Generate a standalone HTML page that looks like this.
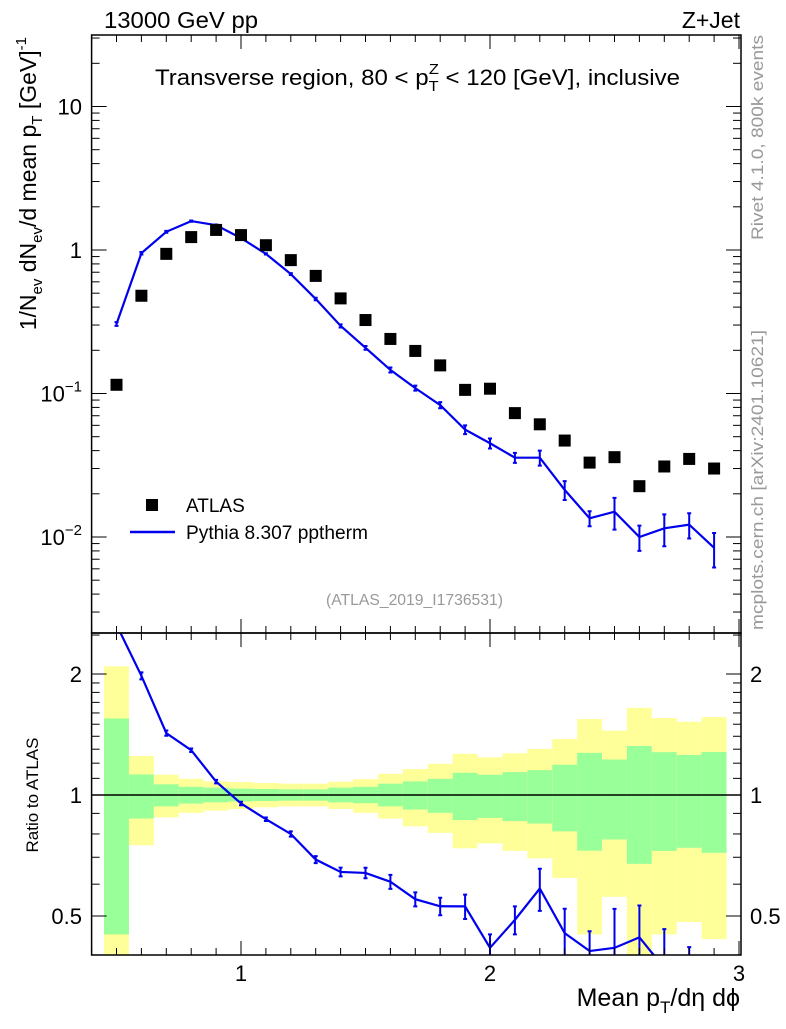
<!DOCTYPE html>
<html><head><meta charset="utf-8"><style>
body{margin:0;background:#fff;}
svg text{font-family:"Liberation Sans",Arial,sans-serif;}
</style></head><body>
<svg id="c" width="786" height="1024" xmlns="http://www.w3.org/2000/svg">
<g id="bands"></g><g id="marks"></g><g id="axes"></g>
<text x="104" y="28" font-size="23" textLength="154" lengthAdjust="spacingAndGlyphs">13000 GeV pp</text>
<text x="740" y="28" font-size="23" text-anchor="end">Z+Jet</text>
<text x="155" y="85" font-size="22" textLength="525" lengthAdjust="spacingAndGlyphs">Transverse region, 80 &lt; p<tspan font-size="15" dy="6">T</tspan><tspan font-size="15" dx="-9" dy="-17">Z</tspan><tspan dy="11"> &lt; 120 [GeV], inclusive</tspan></text>
<text x="326" y="605" font-size="16" fill="#999" textLength="177" lengthAdjust="spacingAndGlyphs">(ATLAS_2019_I1736531)</text>
<text transform="translate(763,240) rotate(-90)" font-size="17" fill="#999" textLength="205" lengthAdjust="spacingAndGlyphs">Rivet 4.1.0,  800k events</text>
<text transform="translate(763,630) rotate(-90)" font-size="17" fill="#999" textLength="300" lengthAdjust="spacingAndGlyphs">mcplots.cern.ch [arXiv:2401.10621]</text>
<text transform="translate(36,37) rotate(-90)" font-size="23" text-anchor="end">1/N<tspan font-size="15" dy="6">ev</tspan><tspan dy="-6"> dN</tspan><tspan font-size="15" dy="6">ev</tspan><tspan dy="-6">/d mean p</tspan><tspan font-size="15" dy="6">T</tspan><tspan dy="-6"> [GeV]</tspan><tspan font-size="15" dy="-10">-1</tspan></text>
<text transform="translate(38,795) rotate(-90)" font-size="17" text-anchor="middle">Ratio to ATLAS</text>
<text x="740" y="1006" font-size="25" text-anchor="end">Mean p<tspan font-size="17" dy="7">T</tspan><tspan dy="-7">/dη dϕ</tspan></text>
<rect x="146" y="499" width="12" height="12" fill="#000"/>
<text x="186" y="512" font-size="19">ATLAS</text>
<line x1="130" y1="532" x2="175" y2="532" stroke="#0000ee" stroke-width="2.5"/>
<text x="186" y="539" font-size="19" textLength="182" lengthAdjust="spacingAndGlyphs">Pythia 8.307 pptherm</text>
</svg>
<script>
const xs=[0.5,0.6,0.7,0.8,0.9,1.0,1.1,1.2,1.3,1.4,1.5,1.6,1.7,1.8,1.9,2.0,2.1,2.2,2.3,2.4,2.5,2.6,2.7,2.8,2.9];
const atlas=[0.115,0.48,0.94,1.23,1.38,1.27,1.08,0.85,0.66,0.46,0.325,0.24,0.198,0.157,0.106,0.108,0.073,0.061,0.047,0.033,0.036,0.0226,0.031,0.035,0.030];
const pythia=[0.305,0.95,1.34,1.59,1.49,1.21,0.94,0.68,0.456,0.296,0.208,0.146,0.109,0.083,0.056,0.045,0.0357,0.0357,0.0213,0.0135,0.015,0.0100,0.0115,0.0122,0.0084];
const pyRelErr=[0.03,0.02,0.015,0.01,0.01,0.01,0.01,0.015,0.02,0.025,0.03,0.04,0.04,0.05,0.07,0.08,0.08,0.12,0.15,0.12,0.25,0.2,0.25,0.2,0.27];
const yelTop=[2.09,1.25,1.123,1.097,1.081,1.077,1.071,1.067,1.067,1.079,1.095,1.129,1.16,1.196,1.266,1.241,1.27,1.302,1.378,1.545,1.446,1.648,1.554,1.521,1.563];
const grnTop=[1.55,1.125,1.063,1.048,1.043,1.037,1.035,1.033,1.033,1.043,1.048,1.067,1.081,1.097,1.136,1.123,1.14,1.153,1.189,1.273,1.225,1.324,1.278,1.258,1.28];
const grnBot=[0.45,0.874,0.937,0.952,0.959,0.964,0.966,0.968,0.968,0.959,0.954,0.937,0.92,0.903,0.866,0.877,0.861,0.849,0.812,0.727,0.775,0.674,0.726,0.739,0.718];
const yelBot=[0.38,0.75,0.88,0.903,0.915,0.923,0.932,0.937,0.937,0.923,0.903,0.874,0.836,0.805,0.737,0.758,0.726,0.696,0.622,0.45,0.558,0.38,0.45,0.483,0.438];
const xTicks=[1,2,3];
const yTicks=[0.01,0.1,1,10];
const rTicks=[0.5,1,2];
const binW=0.1;

const NS="http://www.w3.org/2000/svg";
const L=91.6,R=741,T=35,B=633,RT=633,RB=955;
const X=v=>L+(v-0.4)*249;
const Y=v=>250-Math.log10(v)*143.5;
const YR=v=>795-Math.log2(v)*121;
function mk(tag,attrs,parent){const e=document.createElementNS(NS,tag);for(const k in attrs)e.setAttribute(k,attrs[k]);document.getElementById(parent).appendChild(e);return e;}
const clampR=y=>Math.max(RT,Math.min(RB,y));
xs.forEach((x,i)=>{
 const x0=X(x-binW/2),w=X(x+binW/2)-x0;
 let e=mk('rect',{x:x0,y:clampR(YR(yelTop[i])),width:w,height:clampR(YR(yelBot[i]))-clampR(YR(yelTop[i])),fill:'#ffff99'},'bands');
 
 
 e=mk('rect',{x:x0,y:clampR(YR(grnTop[i])),width:w,height:clampR(YR(grnBot[i]))-clampR(YR(grnTop[i])),fill:'#99ff99'},'bands');
 
 
});
let pts=xs.map((x,i)=>X(x)+','+Y(pythia[i])).join(' ');
let pl=mk('polyline',{points:pts,fill:'none',stroke:'#0000ee','stroke-width':2.2},'marks');


xs.forEach((x,i)=>{
 const hi=Y(pythia[i]*(1+pyRelErr[i])),lo=Y(pythia[i]*(1-pyRelErr[i]));
 const e=mk('path',{d:`M${X(x)},${hi}V${lo}M${X(x)-2},${hi}h4M${X(x)-2},${lo}h4`,stroke:'#0000ee','stroke-width':2,fill:'none'},'marks');
 
 
 const s=mk('rect',{x:X(x)-6,y:Y(atlas[i])-6,width:12,height:12,fill:'#000'},'marks');
 
 
});
const ratio=xs.map((x,i)=>pythia[i]/atlas[i]);
const cp=mk('clipPath',{id:'rc'},'marks');
const cr=document.createElementNS(NS,'rect');cr.setAttribute('x',L);cr.setAttribute('y',RT);cr.setAttribute('width',R-L);cr.setAttribute('height',RB-RT);cp.appendChild(cr);
mk('line',{x1:L,x2:R,y1:YR(1),y2:YR(1),stroke:'#000','stroke-width':1.5},'marks');
const rg=mk('g',{'clip-path':'url(#rc)'},'marks');


let rp=document.createElementNS(NS,'polyline');
rp.setAttribute('points',xs.map((x,i)=>X(x)+','+YR(ratio[i])).join(' '));
rp.setAttribute('fill','none');rp.setAttribute('stroke','#0000ee');rp.setAttribute('stroke-width','2.2');


rg.appendChild(rp);
xs.forEach((x,i)=>{
 const hi=YR(ratio[i]*(1+pyRelErr[i])),lo=YR(ratio[i]*(1-pyRelErr[i]));
 const e=document.createElementNS(NS,'path');
 e.setAttribute('d',`M${X(x)},${hi}V${lo}M${X(x)-2},${hi}h4M${X(x)-2},${lo}h4`);
 e.setAttribute('stroke','#0000ee');e.setAttribute('stroke-width','2');
 
 
 rg.appendChild(e);
});
[[T,B],[RT,RB]].forEach(([t,b])=>{mk('rect',{x:L,y:t,width:R-L,height:b-t,fill:'none',stroke:'#000','stroke-width':1.5},'axes');});
for(let k=4;k<=30;k++){const v=k/10,x=X(v),maj=k%10==0;
 [[T,1],[B,-1],[RT,1],[RB,-1]].forEach(([y,d])=>mk('line',{x1:x,x2:x,y1:y,y2:y+d*(maj?14:7),stroke:'#000'},'axes'));}
xTicks.forEach(v=>{const t=mk('text',{x:X(v),y:981,'font-size':22,'text-anchor':'middle'},'axes');t.textContent=v;
 
 });
for(let d=-3;d<=1;d++)for(let m=1;m<=9;m++){const v=m*Math.pow(10,d),y=Y(v);if(y<T||y>B)continue;
 const len=m==1?15:8;mk('line',{x1:L,x2:L+len,y1:y,y2:y,stroke:'#000'},'axes');mk('line',{x1:R,x2:R-len,y1:y,y2:y,stroke:'#000'},'axes');}
yTicks.forEach(v=>{const t=mk('text',{x:82,y:Y(v)+8,'font-size':22,'text-anchor':'end'},'axes');
 if(v>=1)t.textContent=v;else{t.textContent='10';const s=document.createElementNS(NS,'tspan');s.setAttribute('dy','-10');s.setAttribute('font-size','15');s.textContent=(v==0.1?'−1':'−2');t.appendChild(s);}
 
 });
[0.4,0.5,0.6,0.7,0.8,0.9,1,1.1,1.2,1.3,1.4,1.5,1.6,1.7,1.8,1.9,2,2.5].forEach(v=>{const y=YR(v);if(y<RT||y>RB)return;
 const len=(v==0.5||v==1||v==2)?15:8;mk('line',{x1:L,x2:L+len,y1:y,y2:y,stroke:'#000'},'axes');mk('line',{x1:R,x2:R-len,y1:y,y2:y,stroke:'#000'},'axes');});
rTicks.forEach(v=>{[[82,'end'],[750,'start']].forEach(([x,a])=>{const t=mk('text',{x:x,y:YR(v)+8,'font-size':22,'text-anchor':a},'axes');t.textContent=v;
 
 });});
</script>
</body></html>
